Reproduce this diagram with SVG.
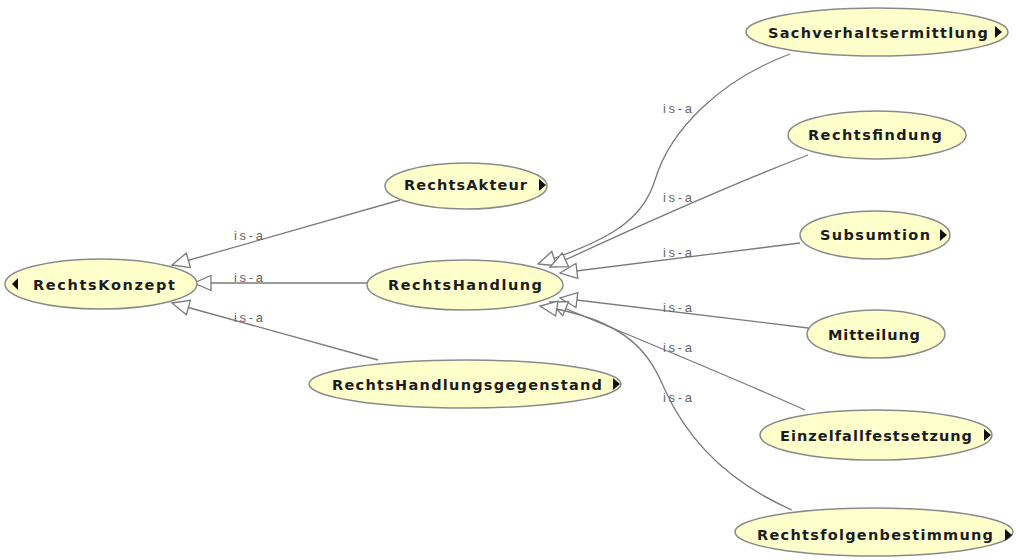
<svg xmlns="http://www.w3.org/2000/svg" width="1016" height="560" viewBox="0 0 1016 560">
  <style>
    .node ellipse { fill: #ffffcc; stroke: #8a8a8a; stroke-width: 1.5; }
    .node text { font-family: "DejaVu Sans", "Liberation Sans", sans-serif; font-size: 14.5px; font-weight: bold; fill: #1c1c1c; }
    .node .more { fill: #111; }
    .edge { fill: none; stroke: #7a7a7a; stroke-width: 1.3; marker-end: url(#hollow); }
    .lbl { font-family: "Liberation Sans", "DejaVu Sans", sans-serif; font-size: 13px; fill: #666666; }
  </style>
  <defs>
    <!-- hollow triangle for subclass (is-a) links -->
    <marker id="hollow" markerUnits="userSpaceOnUse" markerWidth="22" markerHeight="18" refX="18" refY="8" orient="auto" overflow="visible">
      <path d="M1,0.5 L18,8 L1,15.5 Z" fill="#ffffff" stroke="#7a7a7a" stroke-width="1.3"/>
    </marker>
  </defs>
  <rect width="1016" height="560" fill="#ffffff"/>

  <g id="connectors">
    <path class="edge" d="M400,200 L172,265"/>
    <path class="edge" d="M367,283 L194,283"/>
    <path class="edge" d="M378,360 L172,303"/>
    <path class="edge" d="M790,54 C720,80 670,130 655,180 C643,220 610,240 538,264"/>
    <path class="edge" d="M808,155 C730,185 640,225 550,267"/>
    <path class="edge" d="M800,243 L560,273"/>
    <path class="edge" d="M808,328 L560,298"/>
    <path class="edge" d="M805,410 C720,372 640,340 550,302"/>
    <path class="edge" d="M792,510 C735,485 690,445 665,390 C650,355 630,320 540,306"/>

    <text class="lbl" x="234" y="240" textLength="29" lengthAdjust="spacing">is-a</text>
    <text class="lbl" x="234" y="282" textLength="29" lengthAdjust="spacing">is-a</text>
    <text class="lbl" x="234" y="322" textLength="29" lengthAdjust="spacing">is-a</text>
    <text class="lbl" x="663" y="113" textLength="29" lengthAdjust="spacing">is-a</text>
    <text class="lbl" x="663" y="202" textLength="29" lengthAdjust="spacing">is-a</text>
    <text class="lbl" x="663" y="257" textLength="29" lengthAdjust="spacing">is-a</text>
    <text class="lbl" x="663" y="312" textLength="29" lengthAdjust="spacing">is-a</text>
    <text class="lbl" x="663" y="352" textLength="29" lengthAdjust="spacing">is-a</text>
    <text class="lbl" x="663" y="402" textLength="29" lengthAdjust="spacing">is-a</text>
  </g>

  <g id="RechtsKonzept" class="node">
    <ellipse cx="101" cy="284" rx="96" ry="25"/>
    <polygon class="more" points="12,284 18,278 18,290"/>
    <text x="33" y="290" textLength="142" lengthAdjust="spacing">RechtsKonzept</text>
  </g>
  <g id="RechtsAkteur" class="node">
    <ellipse cx="466" cy="186" rx="81" ry="23"/>
    <polygon class="more" points="539,179 546,185 539,191"/>
    <text x="404" y="190" textLength="123" lengthAdjust="spacing">RechtsAkteur</text>
  </g>
  <g id="RechtsHandlung" class="node">
    <ellipse cx="465" cy="285" rx="98" ry="25"/>
    <text x="388" y="290" textLength="154" lengthAdjust="spacing">RechtsHandlung</text>
  </g>
  <g id="RechtsHandlungsgegenstand" class="node">
    <ellipse cx="465" cy="384" rx="156" ry="24"/>
    <polygon class="more" points="613,378 620,384 613,390"/>
    <text x="332" y="390" textLength="270" lengthAdjust="spacing">RechtsHandlungsgegenstand</text>
  </g>
  <g id="Sachverhaltsermittlung" class="node">
    <ellipse cx="877" cy="32" rx="131" ry="24"/>
    <polygon class="more" points="995,26 1002,32 995,38"/>
    <text x="768" y="38" textLength="220" lengthAdjust="spacing">Sachverhaltsermittlung</text>
  </g>
  <g id="Rechtsfindung" class="node">
    <ellipse cx="877" cy="135" rx="89" ry="24"/>
    <text x="808" y="140" textLength="134" lengthAdjust="spacing">Rechtsfindung</text>
  </g>
  <g id="Subsumtion" class="node">
    <ellipse cx="875" cy="235" rx="75" ry="24"/>
    <polygon class="more" points="940,229 947,235 940,241"/>
    <text x="820" y="240" textLength="110" lengthAdjust="spacing">Subsumtion</text>
  </g>
  <g id="Mitteilung" class="node">
    <ellipse cx="876" cy="334" rx="69" ry="24"/>
    <text x="828" y="340" textLength="92" lengthAdjust="spacing">Mitteilung</text>
  </g>
  <g id="Einzelfallfestsetzung" class="node">
    <ellipse cx="876" cy="435" rx="116" ry="25"/>
    <polygon class="more" points="984,429 991,435 984,441"/>
    <text x="780" y="441" textLength="192" lengthAdjust="spacing">Einzelfallfestsetzung</text>
  </g>
  <g id="Rechtsfolgenbestimmung" class="node">
    <ellipse cx="874" cy="532" rx="139" ry="24"/>
    <polygon class="more" points="1005,529 1012,535 1005,541"/>
    <text x="757" y="540" textLength="236" lengthAdjust="spacing">Rechtsfolgenbestimmung</text>
  </g>
</svg>
